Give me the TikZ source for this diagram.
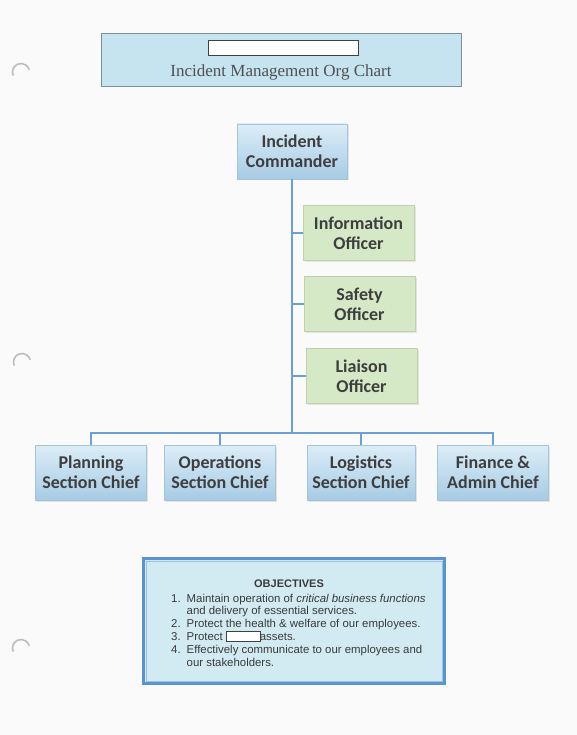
\documentclass[tikz,border=0pt]{standalone}
\usepackage{fontspec}
\setmainfont{Liberation Serif}
\newfontfamily\calfont{Carlito}
\newfontfamily\arialfont{Liberation Sans}
\usetikzlibrary{shadows}
\definecolor{pagebg}{HTML}{FAFAFA}
\definecolor{titlefill}{HTML}{C6E3F0}
\definecolor{titleedge}{HTML}{7C8F9A}
\definecolor{titletext}{HTML}{505050}
\definecolor{bluetop}{HTML}{DCEDF7}
\definecolor{bluebot}{HTML}{A6CBE4}
\definecolor{blueedge}{HTML}{A3C4DD}
\definecolor{greenfill}{HTML}{D6E9C6}
\definecolor{greenedge}{HTML}{BCD3AC}
\definecolor{boxtext}{HTML}{3E3E3E}
\definecolor{conncol}{HTML}{6C9FD3}
\definecolor{objfill}{HTML}{D2EBF2}
\definecolor{objedge}{HTML}{5A93CF}
\definecolor{objinner}{HTML}{9CC3E6}
\definecolor{objtext}{HTML}{3A3A3A}
\definecolor{holecol}{HTML}{BDBDBD}
\tikzset{
  orgbox/.style={minimum width=111pt, minimum height=55pt, inner sep=0pt, align=center,
    font=\calfont\bfseries\fontsize{18}{20}\selectfont, text=boxtext,
    drop shadow={opacity=0.18, shadow xshift=1.5pt, shadow yshift=-1.5pt}},
  bluebox/.style={orgbox, draw=blueedge, top color=bluetop, bottom color=bluebot},
  greenbox/.style={orgbox, draw=greenedge, fill=greenfill},
  conn/.style={draw=conncol, line width=1.8pt},
  hole/.style={draw=holecol, line width=1.6pt},
  redact/.style={draw=black!75, fill=white, line width=0.9pt}
}
\begin{document}
\begin{tikzpicture}[x=1pt,y=-1pt]
\useasboundingbox[fill=pagebg] (0,0) rectangle (577,735);
% binder holes
\foreach \hx/\hy [count=\i] in {21/72, 22/362, 21/648}{
  \draw[hole] (\hx,\hy) ++(155:8.5) arc (155:345:8.5);
}
% title
\node[draw=titleedge, fill=titlefill, line width=1pt, minimum width=360pt, minimum height=53pt, inner sep=0pt] (title) at (281,60.5) {};
\node[font=\fontsize{17}{20}\selectfont, text=titletext, inner sep=0pt] (titletxt) at (281,72) {Incident Management Org Chart};
\node[redact, minimum width=150pt, minimum height=15pt, inner sep=0pt] (titleredact) at (283,47.5) {};
% nodes
\node[bluebox, minimum width=110pt] (ic) at (292,151.5) {Incident\\Commander};
\node[greenbox] (info) at (358.5,233) {Information\\Officer};
\node[greenbox] (safety) at (359.5,304) {Safety\\Officer};
\node[greenbox] (liaison) at (361.5,376) {Liaison\\Officer};
\node[bluebox] (plan) at (91,472.5) {Planning\\Section Chief};
\node[bluebox] (ops) at (220,472.5) {Operations\\Section Chief};
\node[bluebox, minimum width=108pt] (logi) at (361,472.5) {Logistics\\Section Chief};
\node[bluebox] (fin) at (493,472.5) {Finance \&\\Admin Chief};
% connectors
\coordinate (j) at (292,433);
\draw[conn] (ic.south) -- (j);
\draw[conn] (plan.north) -- ++(0,-12) -| (fin.north);
\draw[conn] (ops.north) -- (ops.north |- j);
\draw[conn] (logi.north) -- (logi.north |- j);
\draw[conn] (info.west) -- (info.west -| j);
\draw[conn] (safety.west) -- (safety.west -| j);
\draw[conn] (liaison.west) -- (liaison.west -| j);
% objectives
\node[draw=objedge, fill=objfill, line width=3pt, minimum width=301pt, minimum height=125pt, inner sep=0pt] (obj) at (294,621) {};
\node[draw=objinner, line width=0.6pt, minimum width=296pt, minimum height=120pt, inner sep=0pt] (objin) at (294,621) {};
\node[font=\arialfont\bfseries\fontsize{11}{12.6}\selectfont, text=objtext, inner sep=0pt] (objhead) at (289,584) {OBJECTIVES};
\node[anchor=north west, font=\arialfont\fontsize{11.4}{12.6}\selectfont, text=objtext, inner sep=0pt] (objlist) at (171,593) {%
\setlength{\fboxsep}{0pt}\setlength{\fboxrule}{0.9pt}%
\begin{tabular}{@{}r@{\hspace{6pt}}l@{}}
1. & Maintain operation of \textit{critical business functions}\\
   & and delivery of essential services.\\
2. & Protect the health \& welfare of our employees.\\
3. & Protect \fcolorbox{black!75}{white}{\rule{0pt}{9pt}\hspace{33pt}}\kern-1pt assets.\\
4. & Effectively communicate to our employees and\\
   & our stakeholders.
\end{tabular}};
\end{tikzpicture}
\end{document}
